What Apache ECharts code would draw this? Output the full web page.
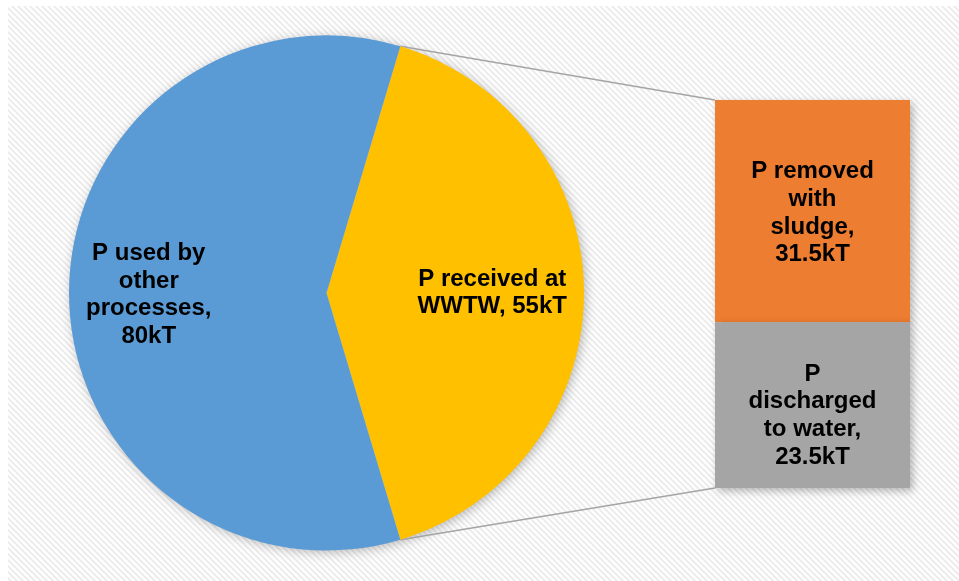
<!DOCTYPE html>
<html>
<head>
<meta charset="utf-8">
<script src="https://cdn.jsdelivr.net/npm/echarts@6/dist/echarts.min.js"></script>
<style>
html,body{margin:0;padding:0;background:#fff;}
#chart{width:959px;height:581px;}
</style>
</head>
<body>
<div id="chart"></div>
<script>
// ---- data ----
const pieNames = ['P received at\nWWTW, 55kT', 'P used by\nother\nprocesses,\n80kT'];
const pieValues = [55, 80];
const barNames = ['P\ndischarged\nto water,\n23.5kT', 'P removed\nwith\nsludge,\n31.5kT'];
const barValues = [23.5, 31.5];
const pieColors = ['#FFC000', '#5B9BD5'];
const barColors = ['#A5A5A5', '#ED7D31'];

// ---- layout ----
const W = 959, H = 581;
const pieCenter = [326.5, 293];
const pieRadius = 257.5;
const barGrid = { left: 715, top: 100, width: 195, height: 388 };

const total = pieValues.reduce((a, b) => a + b, 0);
const startAngle = pieValues[0] / total * 180; // split slice centred on the right

// background pattern
const pat = document.createElement('canvas');
pat.width = 6; pat.height = 6;
const pc = pat.getContext('2d');
pc.fillStyle = '#ffffff';
pc.fillRect(0, 0, 6, 6);
pc.strokeStyle = '#ececec';
pc.lineWidth = 2;
for (let k = -1; k <= 1; k++) {
  pc.beginPath();
  pc.moveTo(k * 6 - 1, -1);
  pc.lineTo(k * 6 + 7, 7);
  pc.stroke();
}

const labelFont = {
  fontFamily: 'Liberation Sans, Arial, sans-serif',
  fontWeight: 'bold',
  fontSize: 24,
  lineHeight: 27.7,
  color: '#000000'
};

const chart = echarts.init(document.getElementById('chart'), null, { renderer: 'canvas' });

const shadow = { shadowBlur: 8, shadowOffsetX: 3, shadowOffsetY: 3, shadowColor: 'rgba(0,0,0,0.28)' };

const option = {
  animation: false,
  backgroundColor: '#ffffff',
  grid: Object.assign({}, barGrid),
  xAxis: { type: 'category', data: ['x'], show: false },
  yAxis: { type: 'value', min: 0, max: barValues.reduce((a, b) => a + b, 0), show: false },
  series: [
    {
      type: 'pie',
      center: pieCenter,
      radius: pieRadius,
      startAngle: startAngle,
      clockwise: true,
      silent: true,
      z: 2,
      itemStyle: { borderWidth: 0 },
      label: Object.assign({ position: 'inside', formatter: '{b}', align: 'center' }, labelFont),
      labelLine: { show: false },
      labelLayout: function (p) {
        return p.dataIndex === 0 ? { dx: 17, dy: 0 } : { dx: -23, dy: 1 };
      },
      data: pieValues.map((v, i) => ({ name: pieNames[i], value: v, itemStyle: { color: pieColors[i] } }))
    },
    {
      type: 'bar',
      stack: 's',
      barWidth: '100%',
      z: 3,
      name: barNames[0],
      itemStyle: Object.assign({ color: barColors[0] }, shadow),
      label: Object.assign({ show: true, position: 'inside', formatter: barNames[0], offset: [0, 10.5] }, labelFont),
      data: [barValues[0]]
    },
    {
      type: 'bar',
      stack: 's',
      barWidth: '100%',
      z: 2,
      name: barNames[1],
      itemStyle: Object.assign({ color: barColors[1] }, shadow),
      label: Object.assign({ show: true, position: 'inside', formatter: barNames[1], offset: [0, 2] }, labelFont),
      data: [barValues[1]]
    }
  ]
};
chart.setOption(option);

// connector lines from the split slice edges to the bar corners
const a = startAngle * Math.PI / 180;
const pTop = [pieCenter[0] + pieRadius * Math.cos(a), pieCenter[1] - pieRadius * Math.sin(a)];
const pBot = [pieCenter[0] + pieRadius * Math.cos(a), pieCenter[1] + pieRadius * Math.sin(a)];
const yTop = chart.convertToPixel({ yAxisIndex: 0 }, option.yAxis.max);
const yBot = chart.convertToPixel({ yAxisIndex: 0 }, 0);
const bx = barGrid.left;

chart.setOption({
  graphic: [
    {
      type: 'rect', z: -10, silent: true,
      shape: { x: 8, y: 6, width: W - 8, height: H - 6 },
      style: { fill: { image: pat, repeat: 'repeat' } }
    },
    {
      type: 'circle', z: -5, silent: true,
      shape: { cx: pieCenter[0], cy: pieCenter[1], r: pieRadius - 1 },
      style: { fill: '#cccccc', shadowBlur: 12, shadowOffsetX: 2, shadowOffsetY: 2, shadowColor: 'rgba(0,0,0,0.3)' }
    },
    {
      type: 'line', z: 1, silent: true,
      shape: { x1: pTop[0], y1: pTop[1], x2: bx, y2: yTop },
      style: { stroke: '#A5A5A5', lineWidth: 1.5 }
    },
    {
      type: 'line', z: 1, silent: true,
      shape: { x1: pBot[0], y1: pBot[1], x2: bx, y2: yBot },
      style: { stroke: '#A5A5A5', lineWidth: 1.5 }
    }
  ]
});
</script>
</body>
</html>
